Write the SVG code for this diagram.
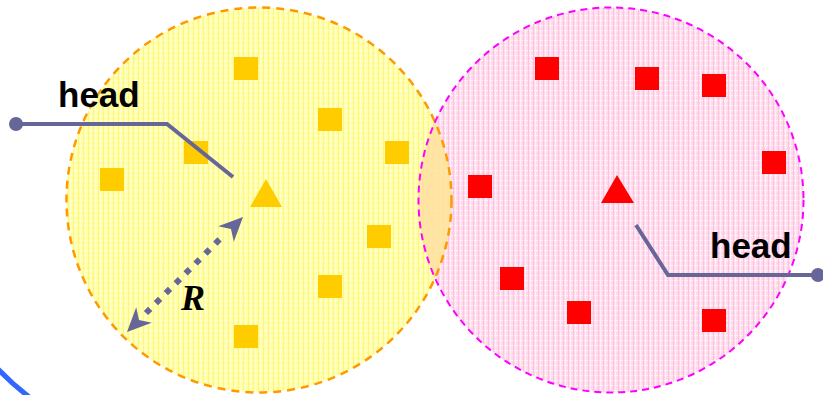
<svg xmlns="http://www.w3.org/2000/svg" width="823" height="395" viewBox="0 0 823 395">
<defs>
<pattern id="py" width="5" height="5" patternUnits="userSpaceOnUse">
<rect width="5" height="5" fill="#FFFF99"/>
<rect width="5" height="1.2" fill="#FFFFD0"/>
<rect width="1.2" height="5" fill="#FFFFD0"/>
<rect x="3" width="1" height="5" fill="#FFF580"/>
</pattern>
<pattern id="pp" width="5" height="5" patternUnits="userSpaceOnUse">
<rect width="5" height="5" fill="#FFD6EA"/>
<rect width="5" height="1.2" fill="#FFEFF7"/>
<rect width="1.2" height="5" fill="#FFEFF7"/>
<rect x="3" width="1" height="5" fill="#FFC2DF"/>
</pattern>
<clipPath id="cy"><circle cx="259" cy="200" r="192.5"/></clipPath>
</defs>
<style>
.sy{fill:#FFCC00}
.sr{fill:#FF0000}
.wire{fill:none;stroke:#666699;stroke-width:4}
.ah{fill:#666699}
.lbl{font-family:"Liberation Sans",Arial,sans-serif;font-weight:bold;font-size:35px;fill:#000}
</style>
<g id="yellow-area">
<circle cx="259" cy="200" r="192.5" fill="url(#py)"/>
</g>
<g id="pink-area">
<circle cx="611" cy="200" r="192.5" fill="url(#pp)"/>
<circle cx="611" cy="200" r="192.5" fill="#FFE49A" opacity="0.9" clip-path="url(#cy)"/>
<circle cx="259" cy="200" r="192.5" fill="none" stroke="#FF9900" stroke-width="2.5" stroke-dasharray="8 6"/>
<circle cx="611" cy="200" r="192.5" fill="none" stroke="#FF00FF" stroke-width="2" stroke-dasharray="7 5"/>
</g>
<g id="yellow-nodes">
<rect class="sy" x="234" y="57" width="24" height="23"/>
<rect class="sy" x="318" y="108" width="24" height="23"/>
<rect class="sy" x="385" y="141" width="24" height="23"/>
<rect class="sy" x="184" y="141" width="24" height="23"/>
<rect class="sy" x="100" y="168" width="24" height="23"/>
<rect class="sy" x="367" y="225" width="24" height="23"/>
<rect class="sy" x="318" y="275" width="24" height="23"/>
<rect class="sy" x="234" y="325" width="24" height="23"/>
<polygon class="sy" points="266,179 250,207 282,207"/>
</g>
<g id="red-nodes">
<rect class="sr" x="535" y="57" width="24" height="23"/>
<rect class="sr" x="635" y="67" width="24" height="23"/>
<rect class="sr" x="702" y="74" width="24" height="23"/>
<rect class="sr" x="762" y="151" width="24" height="23"/>
<rect class="sr" x="468" y="175" width="24" height="23"/>
<rect class="sr" x="500" y="267" width="24" height="23"/>
<rect class="sr" x="567" y="301" width="24" height="23"/>
<rect class="sr" x="702" y="309" width="24" height="23"/>
<polygon class="sr" points="617,175 601,203 634,203"/>
</g>
<g id="connectors">
<polyline class="wire" points="16,124 167,124 233,177"/>
<circle cx="16" cy="124" r="7" fill="#666699"/>
<polyline class="wire" points="636,225 668,275 818,275"/>
<circle cx="818" cy="275" r="7" fill="#666699"/>
<line x1="146" y1="313" x2="224" y2="235" stroke="#666699" stroke-width="6" stroke-dasharray="6 8"/>
<polygon class="ah" points="243,217 233.8,241.8 231,229 218.2,226.2"/>
<polygon class="ah" points="127,332 136.2,307.2 139,320 151.8,322.8"/>
<path d="M-4,367 A 260 260 0 0 0 36,402" fill="none" stroke="#3366FF" stroke-width="5"/>
</g>
<g id="labels">
<text class="lbl" x="58" y="107">head</text>
<text class="lbl" x="710" y="258">head</text>
<text x="181" y="310" font-family="'Liberation Serif','Times New Roman',serif" font-weight="bold" font-style="italic" font-size="36px">R</text>
</g>
</svg>
